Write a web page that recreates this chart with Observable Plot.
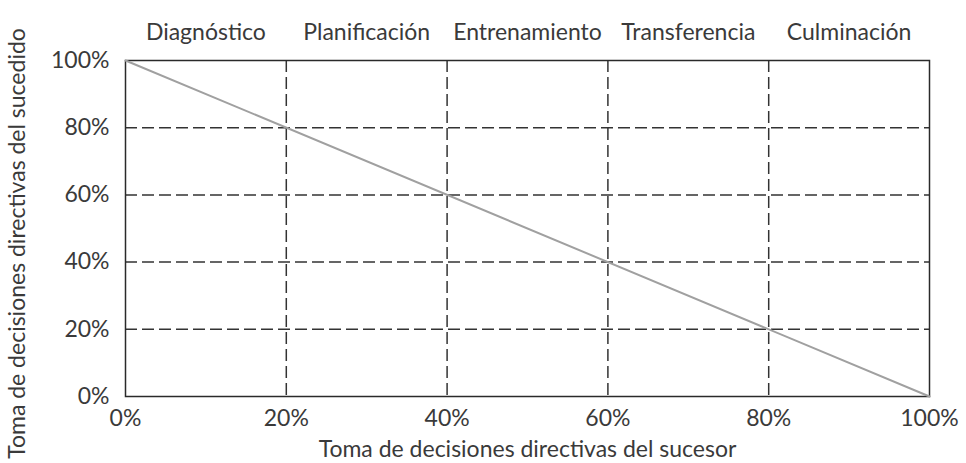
<!DOCTYPE html>
<html>
<head>
<meta charset="utf-8">
<script src="https://cdn.jsdelivr.net/npm/d3@7"></script>
<script src="https://cdn.jsdelivr.net/npm/@observablehq/plot@0.6"></script>
<style>
  html, body { margin: 0; padding: 0; background: #fff; }
</style>
</head>
<body>
<div id="chart"></div>
<script>
// Data
const sucesor = [0, 100];          // x: Toma de decisiones directivas del sucesor (%)
const sucedido = [100, 0];         // y: Toma de decisiones directivas del sucedido (%)
const phases = ["Diagnóstico", "Planificación", "Entrenamiento", "Transferencia", "Culminación"];
const phaseCenters = [10, 30, 50, 70, 90];
const ticks = [0, 20, 40, 60, 80, 100];
const gridTicks = [20, 40, 60, 80];
const xLabel = "Toma de decisiones directivas del sucesor";
const yLabel = "Toma de decisiones directivas del sucedido";

const lineData = sucesor.map((x, i) => ({x, y: sucedido[i]}));
const pct = d => d + "%";
const ink = "#3a3a3a";
const fs = 23;

const chart = Plot.plot({
  width: 966,
  height: 463,
  marginLeft: 125,
  marginRight: 37,
  marginTop: 60,
  marginBottom: 67,
  style: {fontFamily: "Lato", fontSize: fs + "px", color: ink, background: "#fff"},
  x: {domain: [0, 100]},
  y: {domain: [0, 100]},
  marks: [
    Plot.ruleX(gridTicks, {stroke: "#333", strokeWidth: 1.5, strokeDasharray: "12,5"}),
    Plot.ruleY(gridTicks, {stroke: "#333", strokeWidth: 1.5, strokeDasharray: "12,5"}),
    Plot.frame({stroke: "#2a2a2a", strokeWidth: 1.5}),
    Plot.line(lineData, {x: "x", y: "y", stroke: "#a0a0a0", strokeWidth: 2}),
    Plot.axisX({ticks, tickFormat: pct, tickSize: 0, tickPadding: 13, label: null, fontSize: fs}),
    Plot.axisY({ticks, tickFormat: pct, tickSize: 0, tickPadding: 16, label: null, fontSize: fs}),
    Plot.text(phases, {x: phaseCenters, frameAnchor: "top", dy: -28, lineAnchor: "middle", textAnchor: "middle", fill: ink, fontSize: fs}),
    Plot.text([xLabel], {frameAnchor: "bottom", dy: 53, lineAnchor: "middle", textAnchor: "middle", fill: ink, fontSize: fs}),
    Plot.text([yLabel], {frameAnchor: "left", rotate: -90, dx: -108, dy: 15, lineAnchor: "middle", textAnchor: "middle", fill: ink, fontSize: fs})
  ]
});
document.getElementById("chart").appendChild(chart);
</script>
</body>
</html>
